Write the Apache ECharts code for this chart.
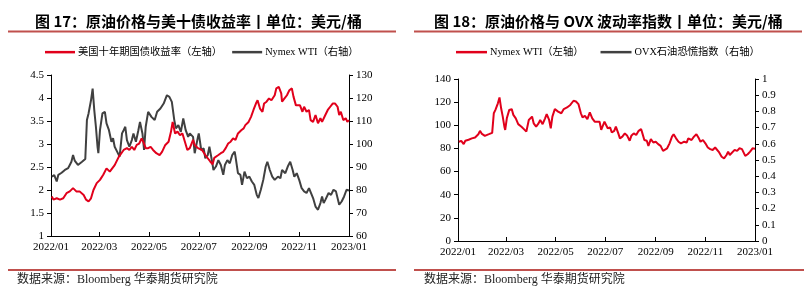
<!DOCTYPE html>
<html>
<head>
<meta charset="utf-8">
<script src="https://cdn.jsdelivr.net/npm/echarts@6/dist/echarts.min.js"></script>
<style>
  html, body { margin: 0; padding: 0; background: #fff; }
  #main { width: 812px; height: 301px; }
</style>
</head>
<body>
<div id="main"></div>
<script>
// 横轴刻度（2022/01 ~ 2023/01，每两个月），以 2022 年第几天计
var tickLabels = ['2022/01', '2022/03', '2022/05', '2022/07', '2022/09', '2022/11', '2023/01'];
var tickDays = [0, 59, 120, 181, 243, 304, 365];

// 美国十年期国债收益率（%），按当年第几天
var usDays = [1, 3, 7, 11, 15, 19, 23, 27, 31, 35, 40, 43, 46, 49, 52, 56, 60, 64, 68, 72, 74, 78, 83, 85, 89, 93, 96, 99, 102, 105, 108, 111, 113, 116, 119, 122, 125, 129, 133, 136, 140, 144, 147, 149, 152, 155, 158, 161, 164, 167, 170, 174,
  176, 180, 185, 189, 192, 195, 198, 200, 202, 205, 208, 211, 214, 217, 220, 223, 226, 229, 233, 236, 238, 242, 245, 248, 251, 253, 256, 259, 261, 264, 267, 270, 274, 276, 279, 282, 283, 286, 289, 292, 295, 297, 300, 302, 305, 308, 310, 313, 316, 318, 321, 324, 327, 330, 332, 336, 339, 342, 345, 348, 351, 353, 355, 358, 361, 363, 365];
var us10y = [1.86, 1.79, 1.82, 1.79, 1.82, 1.93, 1.97, 2.04, 1.97, 1.97, 1.89, 1.79, 1.75, 1.82, 2.0, 2.15, 2.22, 2.33, 2.47, 2.40, 2.36, 2.54, 2.72, 2.72, 2.87, 2.91, 2.87, 2.94, 2.87, 2.98, 3.01, 3.12, 3.05, 2.91, 2.91, 2.94, 2.87, 2.80, 2.76, 2.83, 2.98, 3.05, 3.27, 3.48, 3.23, 3.27, 3.19, 3.23, 3.05, 2.87, 2.91, 3.09,
  2.98, 2.91, 2.87, 2.76, 2.69, 2.62, 2.56, 2.70, 2.69, 2.76, 2.80, 2.83, 2.91, 3.01, 3.05, 3.12, 3.09, 3.23, 3.30, 3.34, 3.41, 3.48, 3.59, 3.74, 3.88, 3.95, 3.77, 3.70, 3.88, 3.92, 3.99, 3.95, 4.06, 4.21, 4.24, 4.10, 3.92, 3.99, 4.06, 4.17, 4.21, 4.03, 3.84, 3.81, 3.84, 3.70, 3.81, 3.70, 3.74, 3.52, 3.48, 3.63, 3.45, 3.56, 3.48, 3.63, 3.74, 3.81, 3.88, 3.88, 3.81, 3.63, 3.70, 3.52, 3.56, 3.48, 3.52];

// Nymex WTI（美元/桶）
var wtiDays = [1, 4, 7, 9, 13, 17, 21, 23, 25, 27, 29, 33, 38, 42, 44, 46, 49, 51, 53, 55, 57, 58, 60, 63, 66, 68, 71, 74, 76, 78, 81, 84, 87, 89, 91, 93, 96, 99, 101, 104, 107, 109, 112, 114, 116, 119,
  123, 127, 130, 134, 138, 142, 145, 148, 151, 153, 156, 159, 162, 165, 168, 170, 174,
  176, 180, 181, 184, 187, 189, 192, 194, 197, 199, 202, 205, 208, 211, 213, 216, 219, 222, 225, 226, 229, 232, 234, 237, 240, 243, 246, 249, 252, 254, 257, 260, 263, 265, 268, 271, 274, 278, 281, 283, 287, 290, 293, 296, 298, 301, 304, 307, 310, 313, 316, 318, 321, 324, 327, 330, 332, 334, 336, 340, 343, 346, 349, 351, 353, 356, 359, 362, 365];
var wti = [85.8, 86.5, 83.7, 86.6, 87.5, 88.7, 89.5, 90.9, 92.3, 95.2, 92.8, 90.9, 92.3, 93.5, 110.4, 113.3, 119, 124.1, 114.7, 107.5, 98.8, 96, 106, 113.3, 114, 109, 106, 101, 102.5, 98.8, 96.7, 94.5, 104.6, 106, 107.5, 101.7, 98.8, 101.7, 104.6, 101, 106, 109.6, 104.6, 97.4, 107.5, 114,
  111.8, 110.4, 114, 115.4, 117.6, 121.2, 120.5, 118.3, 110.4, 106.8, 108.2, 105.3, 111.1, 106, 103.1, 104.6, 103.1,
  96, 103.1, 104.6, 97.4, 98.1, 93.8, 95.2, 98.8, 93, 88.7, 90.2, 93, 90.9, 86.6, 90.9, 93, 91.6, 95.2, 96.7, 94.5, 87.3, 86.6, 82.2, 88, 85.1, 85.8, 83.7, 82.2, 77.9, 76.5, 80.1, 84.4, 90.2, 92.3, 88.7, 85.8, 84.4, 85.8, 85.1, 88.7, 87.3, 90.2, 92.3, 88.7, 85.8, 87.3, 84.4, 80.8, 79.4, 78.7, 80.8, 80.1, 76.5, 72.8, 71.4, 74.3, 77.2, 74.3, 75.7, 78.7, 77.9, 80.1, 79.4, 78.7, 73.6, 75, 77.2, 80.1, 79.8];

// OVX石油恐慌指数（图中未见曲线）
var ovxDays = [];
var ovx = [];

function toPairs(days, vals) {
    var out = [];
    for (var i = 0; i < days.length; i++) {
        out.push([days[i], vals[i]]);
    }
    return out;
}

var RED = '#E1001B';
var GRAY = '#404040';
var BROWN = '#C0504D';
var serif = "'Liberation Serif', 'Noto Sans CJK SC'";

function xAxisDef(gi) {
    return {
        type: 'value', gridIndex: gi,
        min: 0, max: 365,
        axisLine: { show: true, onZero: false, lineStyle: { color: '#000', width: 1 } },
        axisTick: { show: true, inside: true, length: 4, customValues: tickDays, lineStyle: { color: '#000' } },
        axisLabel: {
            margin: 6, color: '#000', fontFamily: serif, fontSize: 11,
            customValues: tickDays,
            formatter: function (v) {
                var idx = tickDays.indexOf(v);
                return idx >= 0 ? tickLabels[idx] : '';
            }
        },
        splitLine: { show: false }
    };
}

function yAxisDef(gi, pos, min, max, interval) {
    return {
        type: 'value', gridIndex: gi, position: pos,
        min: min, max: max, interval: interval,
        axisLine: { show: true, onZero: false, lineStyle: { color: '#000', width: 1 } },
        axisTick: { show: true, inside: false, length: 4, lineStyle: { color: '#000' } },
        axisLabel: { margin: 7, color: '#000', fontFamily: serif, fontSize: 11 },
        splitLine: { show: false }
    };
}

var myChart = echarts.init(document.getElementById('main'));

var legendText = { color: '#000', fontFamily: serif, fontSize: 10.3, padding: [0, 0, 0, -2] };

var option = {
    animation: false,
    backgroundColor: '#fff',
    grid: [
        { left: 51, top: 75, width: 298, height: 161 },
        { left: 458, top: 79, width: 297, height: 162 }
    ],
    xAxis: [xAxisDef(0), xAxisDef(1)],
    yAxis: [
        yAxisDef(0, 'left', 1, 4.5, 0.5),
        yAxisDef(0, 'right', 60, 130, 10),
        yAxisDef(1, 'left', 0, 140, 20),
        yAxisDef(1, 'right', 0, 1, 0.1)
    ],
    legend: [
        {
            left: 45, top: 47, padding: 0, icon: 'rect', itemWidth: 30, itemHeight: 2.5, itemGap: 10,
            data: ['美国十年期国债收益率（左轴）', 'Nymex WTI（右轴）'],
            textStyle: legendText
        },
        {
            left: 456, top: 47, padding: 0, icon: 'rect', itemWidth: 31, itemHeight: 2.5, itemGap: 17,
            data: ['Nymex WTI（左轴）', 'OVX石油恐慌指数（右轴）'],
            textStyle: legendText
        }
    ],
    graphic: [
        { type: 'text', left: 35, top: 14, style: { text: '图 17：原油价格与美十债收益率丨单位：美元/桶', font: "bold 15px 'Noto Sans CJK SC'", fill: '#000' } },
        { type: 'text', left: 434, top: 14, style: { text: '图 18：原油价格与 OVX 波动率指数丨单位：美元/桶', font: "bold 15px 'Noto Sans CJK SC'", fill: '#000' } },
        { type: 'line', shape: { x1: 8, y1: 31.5, x2: 396, y2: 31.5 }, style: { stroke: BROWN, lineWidth: 2 } },
        { type: 'line', shape: { x1: 414, y1: 31.5, x2: 802, y2: 31.5 }, style: { stroke: BROWN, lineWidth: 2 } },
        { type: 'line', shape: { x1: 8, y1: 270, x2: 396, y2: 270 }, style: { stroke: BROWN, lineWidth: 2 } },
        { type: 'line', shape: { x1: 414, y1: 270, x2: 804, y2: 270 }, style: { stroke: BROWN, lineWidth: 2 } },
        { type: 'text', left: 17, top: 274, style: { text: '数据来源：Bloomberg 华泰期货研究院', font: "12px 'Liberation Serif', 'Noto Sans CJK SC'", fill: '#222' } },
        { type: 'text', left: 424, top: 274, style: { text: '数据来源：Bloomberg 华泰期货研究院', font: "12px 'Liberation Serif', 'Noto Sans CJK SC'", fill: '#222' } }
    ],
    series: [
        {
            name: 'Nymex WTI（右轴）', type: 'line', xAxisIndex: 0, yAxisIndex: 1,
            data: toPairs(wtiDays, wti), symbol: 'none', showSymbol: false,
            itemStyle: { color: GRAY }, lineStyle: { color: GRAY, width: 2 }
        },
        {
            name: '美国十年期国债收益率（左轴）', type: 'line', xAxisIndex: 0, yAxisIndex: 0,
            data: toPairs(usDays, us10y), symbol: 'none', showSymbol: false,
            itemStyle: { color: RED }, lineStyle: { color: RED, width: 2 }
        },
        {
            name: 'Nymex WTI（左轴）', type: 'line', xAxisIndex: 1, yAxisIndex: 2,
            data: toPairs(wtiDays, wti), symbol: 'none', showSymbol: false,
            itemStyle: { color: RED }, lineStyle: { color: RED, width: 2 }
        },
        {
            name: 'OVX石油恐慌指数（右轴）', type: 'line', xAxisIndex: 1, yAxisIndex: 3,
            data: toPairs(ovxDays, ovx), symbol: 'none', showSymbol: false,
            itemStyle: { color: GRAY }, lineStyle: { color: GRAY, width: 2 }
        }
    ]
};

myChart.setOption(option);
</script>
</body>
</html>
